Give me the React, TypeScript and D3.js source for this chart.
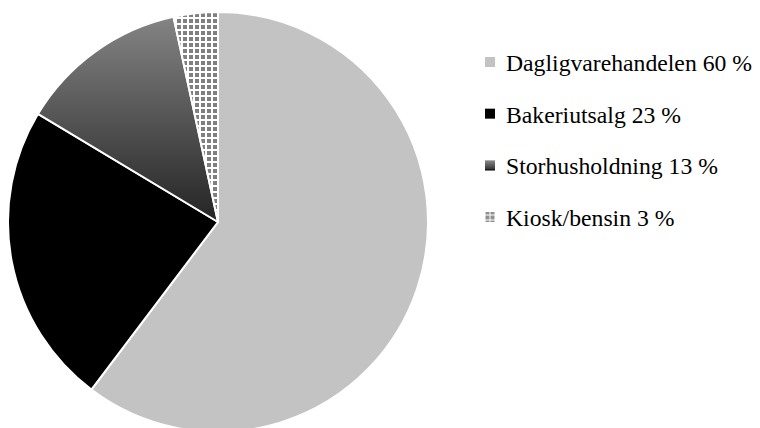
import React from "react";
import * as d3 from "d3";

const categories = ["Dagligvarehandelen", "Bakeriutsalg", "Storhusholdning", "Kiosk/bensin"];
const values = [60.3, 23.3, 13.0, 3.4];
const labels = ["60 %", "23 %", "13 %", "3 %"];

const W = 760;
const H = 428;

export default function App() {
  const cx = 218;
  const cy = 222;
  const r = 210;
  const pie = d3.pie<number>().sort(null).value((d) => d).startAngle(0).endAngle(2 * Math.PI);
  const arcs = pie(values);
  const arcGen = d3.arc<d3.PieArcDatum<number>>().innerRadius(0).outerRadius(r);
  const fills = ["#c3c3c3", "#000000", "url(#gradStor)", "url(#patKiosk)"];
  const legendFills = ["#c3c3c3", "#000000", "url(#gradStorL)", "url(#patKioskL)"];
  const legendY = d3.scalePoint<string>().domain(categories).range([62, 217]);

  return (
    <svg width={W} height={H} style={{ position: "absolute", left: 0, top: 0, background: "#fff" }}>
      <defs>
        <linearGradient id="gradStor" x1="0" y1="0" x2="0" y2="1">
          <stop offset="0" stopColor="#848484" />
          <stop offset="1" stopColor="#242424" />
        </linearGradient>
        <linearGradient id="gradStorL" x1="0" y1="0" x2="0" y2="1">
          <stop offset="0" stopColor="#8a8a8a" />
          <stop offset="1" stopColor="#2a2a2a" />
        </linearGradient>
        <pattern id="patKiosk" patternUnits="userSpaceOnUse" width="6" height="6" x="0" y="0">
          <rect width="6" height="6" fill="#ffffff" />
          <rect x="1" y="1" width="4" height="4" fill="#808080" />
        </pattern>
        <pattern id="patKioskL" patternUnits="userSpaceOnUse" width="5" height="5" x="0" y="0">
          <rect width="5" height="5" fill="#ffffff" />
          <rect x="0.5" y="0.5" width="4" height="4" fill="#909090" />
        </pattern>
      </defs>
      <g transform={`translate(${cx},${cy})`}>
        {arcs.map((a, i) => (
          <path key={categories[i]} d={arcGen(a) || ""} fill={fills[i]} stroke="#ffffff" strokeWidth={2} strokeLinejoin="round" />
        ))}
      </g>
      <g>
        {categories.map((c, i) => {
          const y = legendY(c) as number;
          return (
            <g key={c}>
              <rect x={485} y={y - 5} width={10} height={10} fill={legendFills[i]} />
              {i === 2 && <rect x={485} y={y + 4} width={10} height={1} fill="#111" />}
              <text
                x={506}
                y={y + 9}
                style={{ fontFamily: "'Liberation Serif', serif", fontSize: "23.7px" }}
                fill="#000"
              >
                {`${c} ${labels[i]}`}
              </text>
            </g>
          );
        })}
      </g>
    </svg>
  );
}
